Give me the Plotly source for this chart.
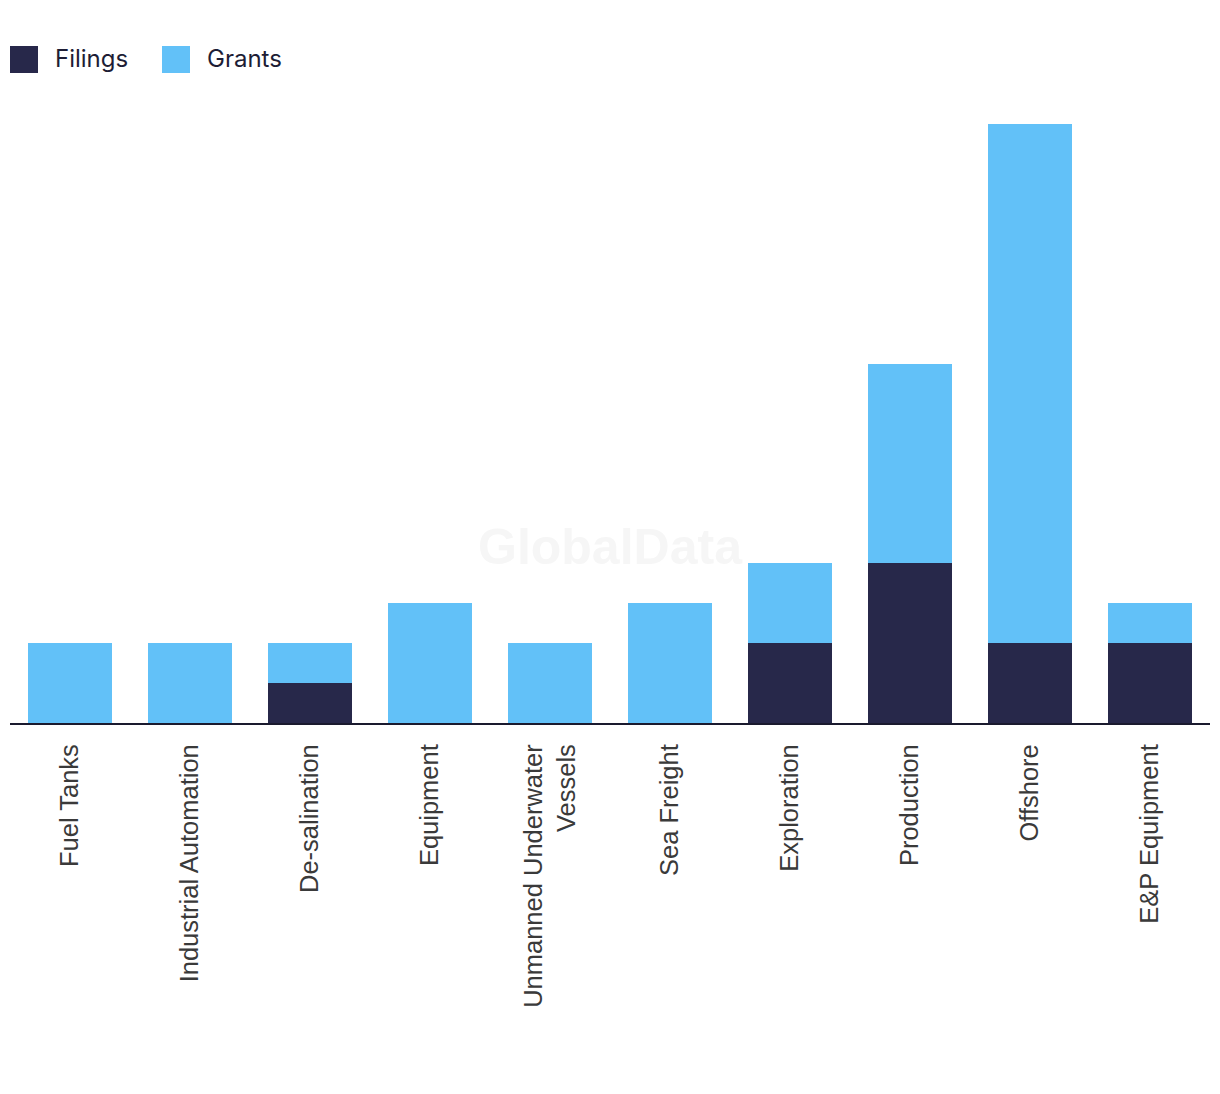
import plotly.graph_objects as go

categories = ["Fuel Tanks", "Industrial Automation", "De-salination", "Equipment",
              "Unmanned Underwater<br>Vessels", "Sea Freight", "Exploration",
              "Production", "Offshore", "E&P Equipment"]
filings = [0, 0, 1, 0, 0, 0, 2, 4, 2, 2]
grants = [2, 2, 1, 3, 2, 3, 2, 5, 13, 1]

DARK = "#27284A"
LIGHT = "#62C1F8"

fig = go.Figure()
fig.add_trace(go.Bar(x=categories, y=filings, name="Filings", marker_color=DARK,
                     marker_line_width=0))
fig.add_trace(go.Bar(x=categories, y=grants, name="Grants", marker_color=LIGHT,
                     marker_line_width=0))

W, H = 1220, 1094
ml, mr, mt, mb = 2, 18, 116, 379
pw, ph = W - ml - mr, H - mt - mb


def px(fx):
    return (fx - ml) / pw


def py(fy):
    return 1 + (mt - fy) / ph


fig.update_layout(
    width=W, height=H,
    barmode="stack", bargap=0.3,
    plot_bgcolor="white", paper_bgcolor="white",
    margin=dict(l=ml, r=mr, t=mt, b=mb, autoexpand=False),
    showlegend=False,
    xaxis=dict(tickangle=-90, showline=True, linecolor="#1a1a2e", linewidth=2,
               ticks="", tickfont=dict(family="Liberation Sans, Arial", size=25.5, color="#3a3a3a"),
               showgrid=False, ticklabelstandoff=9),
    yaxis=dict(visible=False, range=[0, 15], showgrid=False, zeroline=False),
)

# custom legend (large squares); coordinates in figure pixels
legend_items = [("Filings", DARK, 2), ("Grants", LIGHT, 154)]
for name, col, x0 in legend_items:
    fig.add_shape(type="rect", xref="paper", yref="paper",
                  x0=px(x0), x1=px(x0 + 28), y0=py(65), y1=py(38),
                  fillcolor=col, line_width=0)
    fig.add_annotation(xref="paper", yref="paper", x=px(x0 + 43),
                       y=py(50), text=name, showarrow=False,
                       xanchor="left", yanchor="middle",
                       font=dict(family="Inter", size=24, color="#1d1d35"))

fig.add_annotation(xref="paper", yref="paper", x=px(602), y=py(539),
                   xanchor="center", yanchor="middle",
                   text="<b>GlobalData</b>", showarrow=False,
                   font=dict(family="Liberation Sans, Arial", size=50, color="#F6F6F6"))

fig.write_html("out.html")
